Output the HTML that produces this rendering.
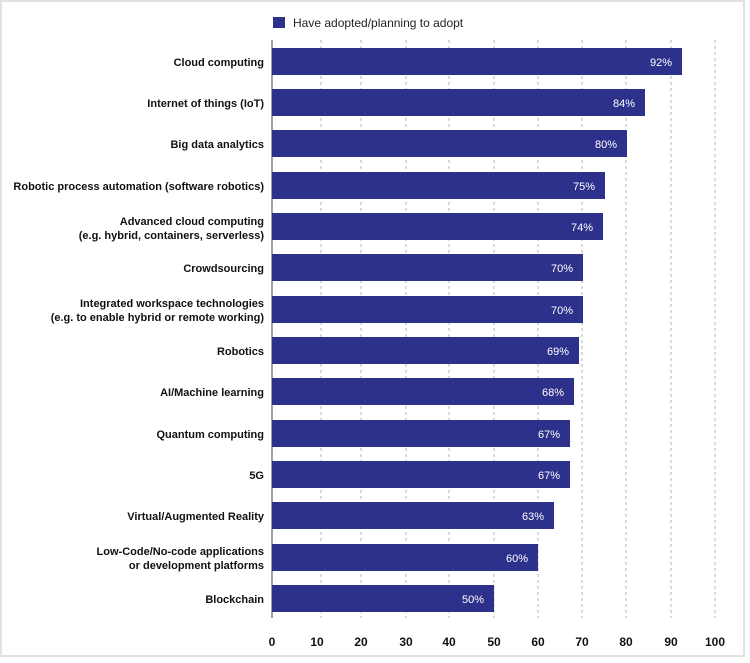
<!DOCTYPE html>
<html><head><style>
body{margin:0;background:#fff;}
svg{display:block;font-family:"Liberation Sans",sans-serif;}
</style></head><body>
<svg width="750" height="663" viewBox="0 0 750 663">
<rect x="1" y="1" width="743" height="655" fill="#fff" stroke="#e2e2e2" stroke-width="2"/>
<rect x="273" y="17" width="12" height="11" fill="#2e318b"/>
<text x="293" y="27" font-size="12" fill="#222">Have adopted/planning to adopt</text>
<g stroke="#b5b5b5" stroke-dasharray="3,3" stroke-width="1">
<line x1="321" y1="40" x2="321" y2="618"/><line x1="361" y1="40" x2="361" y2="618"/>
<line x1="406" y1="40" x2="406" y2="618"/><line x1="449" y1="40" x2="449" y2="618"/>
<line x1="494" y1="40" x2="494" y2="618"/><line x1="538" y1="40" x2="538" y2="618"/>
<line x1="582" y1="40" x2="582" y2="618"/><line x1="626" y1="40" x2="626" y2="618"/>
<line x1="671" y1="40" x2="671" y2="618"/><line x1="715" y1="40" x2="715" y2="618"/>
</g>
<line x1="272" y1="40" x2="272" y2="618" stroke="#444" stroke-width="1"/>
<g fill="#2e318b">
<rect x="272" y="48" width="410" height="27"/>
<rect x="272" y="89" width="373" height="27"/>
<rect x="272" y="130" width="355" height="27"/>
<rect x="272" y="172" width="333" height="27"/>
<rect x="272" y="213" width="331" height="27"/>
<rect x="272" y="254" width="311" height="27"/>
<rect x="272" y="296" width="311" height="27"/>
<rect x="272" y="337" width="307" height="27"/>
<rect x="272" y="378" width="302" height="27"/>
<rect x="272" y="420" width="298" height="27"/>
<rect x="272" y="461" width="298" height="27"/>
<rect x="272" y="502" width="282" height="27"/>
<rect x="272" y="544" width="266" height="27"/>
<rect x="272" y="585" width="222" height="27"/>
</g>
<g fill="#fff" font-size="11" text-anchor="end">
<text x="672" y="66">92%</text><text x="635" y="107">84%</text>
<text x="617" y="148">80%</text><text x="595" y="190">75%</text>
<text x="593" y="231">74%</text><text x="573" y="272">70%</text>
<text x="573" y="314">70%</text><text x="569" y="355">69%</text>
<text x="564" y="396">68%</text><text x="560" y="438">67%</text>
<text x="560" y="479">67%</text><text x="544" y="520">63%</text>
<text x="528" y="562">60%</text><text x="484" y="603">50%</text>
</g>
<g fill="#111" font-size="11" font-weight="bold" text-anchor="end">
<text x="264" y="66">Cloud computing</text>
<text x="264" y="107">Internet of things (IoT)</text>
<text x="264" y="148">Big data analytics</text>
<text x="264" y="190">Robotic process automation (software robotics)</text>
<text x="264" y="225">Advanced cloud computing</text>
<text x="264" y="239">(e.g. hybrid, containers, serverless)</text>
<text x="264" y="272">Crowdsourcing</text>
<text x="264" y="307">Integrated workspace technologies</text>
<text x="264" y="321">(e.g. to enable hybrid or remote working)</text>
<text x="264" y="355">Robotics</text>
<text x="264" y="396">AI/Machine learning</text>
<text x="264" y="438">Quantum computing</text>
<text x="264" y="479">5G</text>
<text x="264" y="520">Virtual/Augmented Reality</text>
<text x="264" y="555">Low-Code/No-code applications</text>
<text x="264" y="569">or development platforms</text>
<text x="264" y="603">Blockchain</text>
</g>
<g fill="#111" font-size="12" font-weight="bold" text-anchor="middle">
<text x="272" y="646">0</text><text x="317" y="646">10</text><text x="361" y="646">20</text>
<text x="406" y="646">30</text><text x="449" y="646">40</text><text x="494" y="646">50</text>
<text x="538" y="646">60</text><text x="582" y="646">70</text><text x="626" y="646">80</text>
<text x="671" y="646">90</text><text x="715" y="646">100</text>
</g>
</svg>
</body></html>
